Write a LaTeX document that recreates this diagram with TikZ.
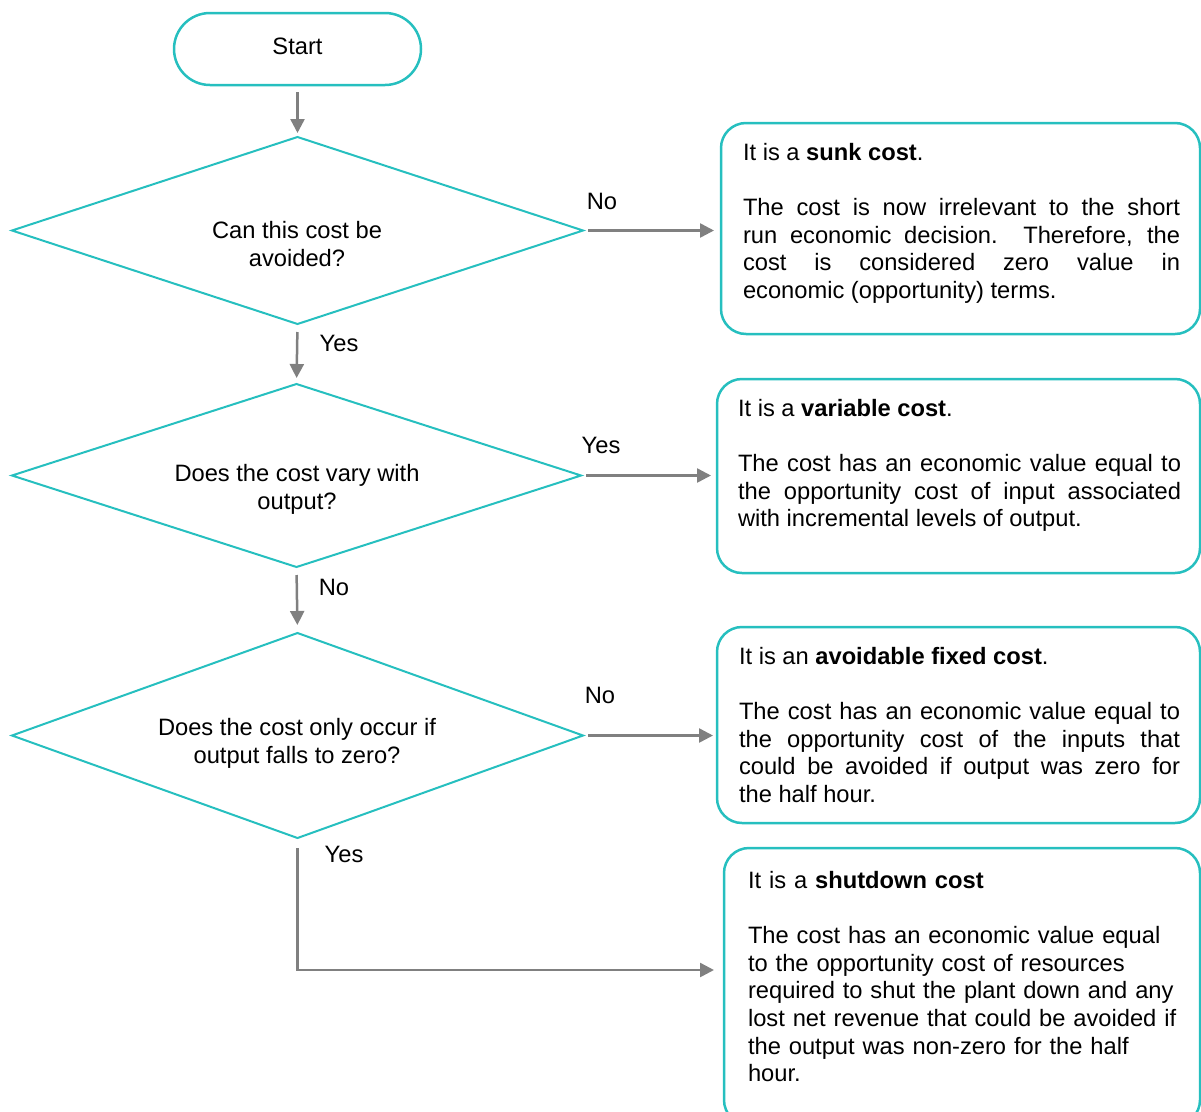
\documentclass[tikz,border=0pt]{standalone}
\usepackage{fontspec}
\setmainfont{Liberation Sans}
\usetikzlibrary{arrows.meta,shapes.geometric}
\definecolor{teal1}{HTML}{26BFBF}
\definecolor{arrowgray}{HTML}{808080}
\begin{document}
\begin{tikzpicture}[x=1pt,y=-1pt,
  txt/.style={font=\fontsize{23.7}{27.6}\selectfont, inner sep=0pt, outer sep=0pt, text=black},
  startbox/.style={draw=teal1, line width=2.5pt, rounded corners=36pt, minimum width=247pt, minimum height=72pt, txt},
  decision/.style={draw=teal1, line width=2pt, diamond, inner sep=0pt, outer sep=0pt},
  infobox/.style={draw=teal1, line width=2.5pt, rounded corners=25pt, inner sep=0pt, outer sep=0pt},
  flow/.style={draw=arrowgray, line width=2.5pt, -{Triangle[length=14pt,width=14pt]}},
  lab/.style={txt},
  dtext/.style={txt, align=center},
  boxtext/.style={txt, anchor=north west, align=justify, execute at begin node={\setlength{\parindent}{0pt}}},
  boxtextl/.style={txt, anchor=north west, align=left, execute at begin node={\setlength{\parindent}{0pt}}},
]
\useasboundingbox (0,0) rectangle (1201,1111);

% start
\node[startbox] (start) at (297.5,49) {\strut Start};

% decisions
\node[decision, minimum width=571pt, minimum height=187pt] (d1) at (297.5,230.5) {};
\node[dtext] (t1) at (297,246.8) {\strut Can this cost be\\\strut avoided?};
\node[decision, minimum width=569pt, minimum height=183pt] (d2) at (296.5,475.5) {};
\node[dtext] (t2) at (297,489.8) {\strut Does the cost vary with\\\strut output?};
\node[decision, minimum width=571pt, minimum height=205pt] (d3) at (297.5,735.5) {};
\node[dtext] (t3) at (297,743.8) {\strut Does the cost only occur if\\\strut output falls to zero?};

% info boxes
\node[infobox, minimum width=479pt, minimum height=211pt] (b1) at (960.5,228.5) {};
\node[boxtext, text width=437pt] (bt1) at (743,141.2) {\strut It is a \textbf{sunk cost}.\par\vspace{27.6pt}The cost is now irrelevant to the short\linebreak run economic decision.\ \ Therefore, the\linebreak cost is considered zero value in\linebreak economic (opportunity) terms.};

\node[infobox, minimum width=483pt, minimum height=194pt] (b2) at (958.5,476) {};
\node[boxtext, text width=443pt] (bt2) at (738,397.2) {\strut It is a \textbf{variable cost}.\par\vspace{27.6pt}The cost has an economic value equal to\linebreak the opportunity cost of input associated\linebreak with incremental levels of output.};

\node[infobox, minimum width=483pt, minimum height=196pt] (b3) at (958.5,725) {};
\node[boxtext, text width=441pt] (bt3) at (739,645.2) {\strut It is an \textbf{avoidable fixed cost}.\par\vspace{27.6pt}The cost has an economic value equal to\linebreak the opportunity cost of the inputs that\linebreak could be avoided if output was zero for\linebreak the half hour.};

\node[infobox, minimum width=476pt, minimum height=277pt] (b4) at (962,986.5) {};
\node[boxtextl, text width=440pt] (bt4) at (748,869.2) {\strut It is a \textbf{shutdown cost}\par\vspace{27.6pt}The cost has an economic value equal\\to the opportunity cost of resources\\required to shut the plant down and any\\lost net revenue that could be avoided if\\the output was non-zero for the half\\hour.};

% connectors
\coordinate (e4) at (724,970);
\draw[flow, shorten <=7pt, shorten >=4pt] (start.south) -- (d1.north);
\draw[flow, shorten <=5pt, shorten >=7pt] (d1.east) -- (b1.west |- d1.east);
\draw[flow, shorten <=8pt, shorten >=6pt] (d1.south) -- (d2.north);
\draw[flow, shorten <=5pt, shorten >=6pt] (d2.east) -- (b2.west |- d2.east);
\draw[flow, shorten <=8pt, shorten >=8pt] (d2.south) -- (d3.north);
\draw[flow, shorten <=5pt, shorten >=4pt] (d3.east) -- (b3.west |- d3.east);
\draw[flow, shorten <=10pt, shorten >=10pt] (d3.south) |- (e4);

% labels
\node[lab] (l1) at (602,204) {\strut No};
\node[lab] (l2) at (339,346) {\strut Yes};
\node[lab] (l3) at (601,448) {\strut Yes};
\node[lab] (l4) at (334,590) {\strut No};
\node[lab] (l5) at (600,698) {\strut No};
\node[lab] (l6) at (344,857) {\strut Yes};
\end{tikzpicture}
\end{document}
